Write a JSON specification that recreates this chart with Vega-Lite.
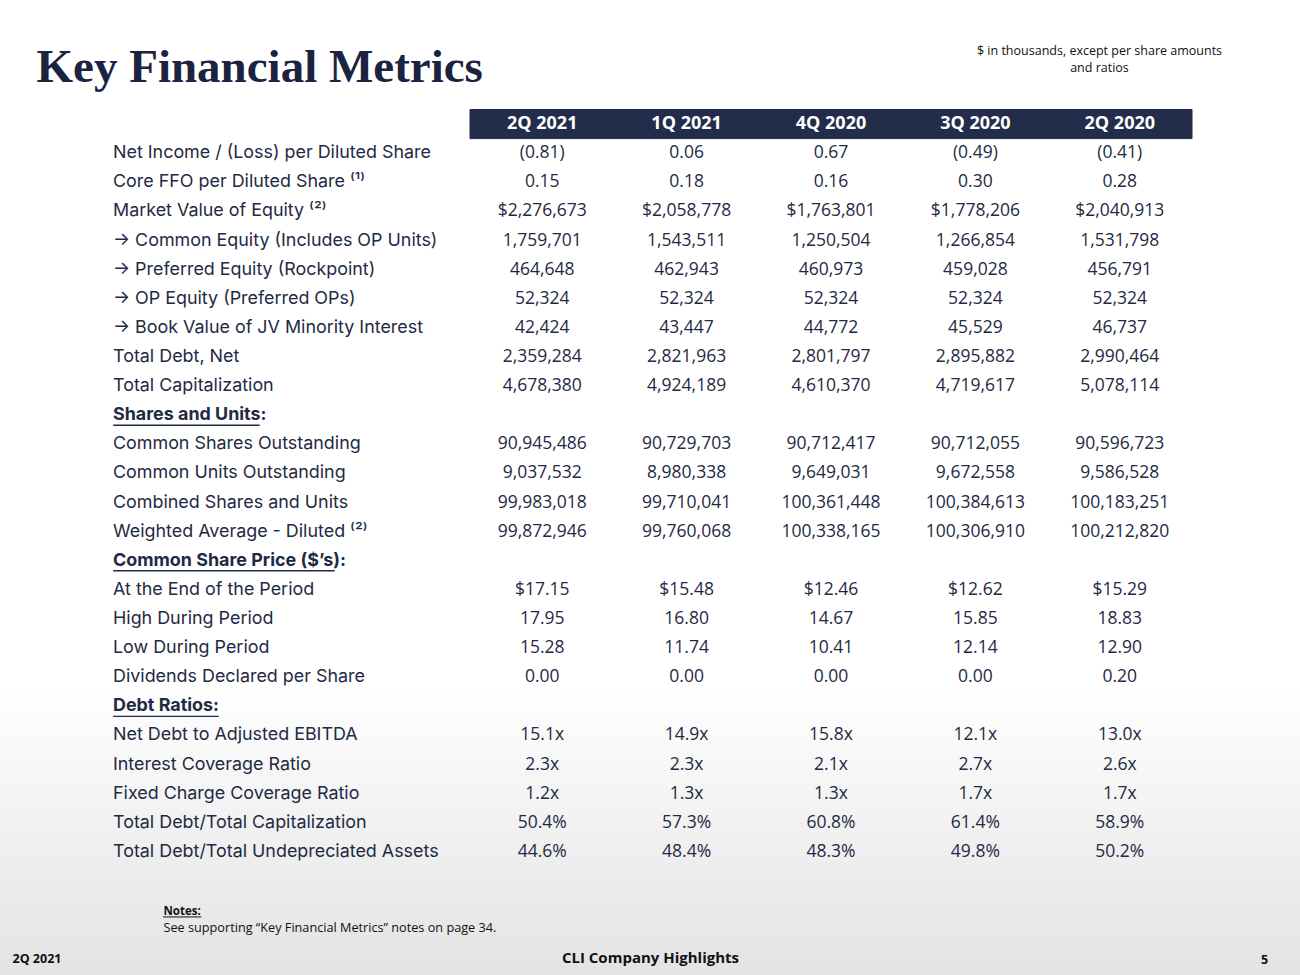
{
  "$schema": "https://vega.github.io/schema/vega-lite/v6.json",
  "width": 1300,
  "height": 975,
  "autosize": {"type": "none"},
  "padding": 0,
  "background": "#ffffff",
  "config": {
    "view": {"stroke": null},
    "axis": {"domain": false, "ticks": false, "labels": false, "grid": false, "titleFont": "Open Sans", "titleColor": "#111111", "titleAngle": 0, "titlePadding": 0},
    "text": {"font": "Open Sans"}
  },
  "resolve": {"axis": {"x": "independent", "y": "independent"}},
  "datasets": {
    "periods": [
      {"period": "2Q 2021", "r": 0},
      {"period": "1Q 2021", "r": 0},
      {"period": "4Q 2020", "r": 0},
      {"period": "3Q 2020", "r": 0},
      {"period": "2Q 2020", "r": 0}
    ],
    "table": [
      {"r": 1, "kind": "row", "label": "Net Income / (Loss) per Diluted Share", "2Q 2021": "(0.81)", "1Q 2021": "0.06", "4Q 2020": "0.67", "3Q 2020": "(0.49)", "2Q 2020": "(0.41)"},
      {"r": 2, "kind": "row", "label": "Core FFO per Diluted Share ⁽¹⁾", "2Q 2021": "0.15", "1Q 2021": "0.18", "4Q 2020": "0.16", "3Q 2020": "0.30", "2Q 2020": "0.28"},
      {"r": 3, "kind": "row", "label": "Market Value of Equity ⁽²⁾", "2Q 2021": "$2,276,673", "1Q 2021": "$2,058,778", "4Q 2020": "$1,763,801", "3Q 2020": "$1,778,206", "2Q 2020": "$2,040,913"},
      {"r": 4, "kind": "row", "label": "→ Common Equity (Includes OP Units)", "2Q 2021": "1,759,701", "1Q 2021": "1,543,511", "4Q 2020": "1,250,504", "3Q 2020": "1,266,854", "2Q 2020": "1,531,798"},
      {"r": 5, "kind": "row", "label": "→ Preferred Equity (Rockpoint)", "2Q 2021": "464,648", "1Q 2021": "462,943", "4Q 2020": "460,973", "3Q 2020": "459,028", "2Q 2020": "456,791"},
      {"r": 6, "kind": "row", "label": "→ OP Equity (Preferred OPs)", "2Q 2021": "52,324", "1Q 2021": "52,324", "4Q 2020": "52,324", "3Q 2020": "52,324", "2Q 2020": "52,324"},
      {"r": 7, "kind": "row", "label": "→ Book Value of JV Minority Interest", "2Q 2021": "42,424", "1Q 2021": "43,447", "4Q 2020": "44,772", "3Q 2020": "45,529", "2Q 2020": "46,737"},
      {"r": 8, "kind": "row", "label": "Total Debt, Net", "2Q 2021": "2,359,284", "1Q 2021": "2,821,963", "4Q 2020": "2,801,797", "3Q 2020": "2,895,882", "2Q 2020": "2,990,464"},
      {"r": 9, "kind": "row", "label": "Total Capitalization", "2Q 2021": "4,678,380", "1Q 2021": "4,924,189", "4Q 2020": "4,610,370", "3Q 2020": "4,719,617", "2Q 2020": "5,078,114"},
      {"r": 10, "kind": "section", "label": "Shares and Units:"},
      {"r": 11, "kind": "row", "label": "Common Shares Outstanding", "2Q 2021": "90,945,486", "1Q 2021": "90,729,703", "4Q 2020": "90,712,417", "3Q 2020": "90,712,055", "2Q 2020": "90,596,723"},
      {"r": 12, "kind": "row", "label": "Common Units Outstanding", "2Q 2021": "9,037,532", "1Q 2021": "8,980,338", "4Q 2020": "9,649,031", "3Q 2020": "9,672,558", "2Q 2020": "9,586,528"},
      {"r": 13, "kind": "row", "label": "Combined Shares and Units", "2Q 2021": "99,983,018", "1Q 2021": "99,710,041", "4Q 2020": "100,361,448", "3Q 2020": "100,384,613", "2Q 2020": "100,183,251"},
      {"r": 14, "kind": "row", "label": "Weighted Average - Diluted ⁽²⁾", "2Q 2021": "99,872,946", "1Q 2021": "99,760,068", "4Q 2020": "100,338,165", "3Q 2020": "100,306,910", "2Q 2020": "100,212,820"},
      {"r": 15, "kind": "section", "label": "Common Share Price ($’s):"},
      {"r": 16, "kind": "row", "label": "At the End of the Period", "2Q 2021": "$17.15", "1Q 2021": "$15.48", "4Q 2020": "$12.46", "3Q 2020": "$12.62", "2Q 2020": "$15.29"},
      {"r": 17, "kind": "row", "label": "High During Period", "2Q 2021": "17.95", "1Q 2021": "16.80", "4Q 2020": "14.67", "3Q 2020": "15.85", "2Q 2020": "18.83"},
      {"r": 18, "kind": "row", "label": "Low During Period", "2Q 2021": "15.28", "1Q 2021": "11.74", "4Q 2020": "10.41", "3Q 2020": "12.14", "2Q 2020": "12.90"},
      {"r": 19, "kind": "row", "label": "Dividends Declared per Share", "2Q 2021": "0.00", "1Q 2021": "0.00", "4Q 2020": "0.00", "3Q 2020": "0.00", "2Q 2020": "0.20"},
      {"r": 20, "kind": "section", "label": "Debt Ratios:"},
      {"r": 21, "kind": "row", "label": "Net Debt to Adjusted EBITDA", "2Q 2021": "15.1x", "1Q 2021": "14.9x", "4Q 2020": "15.8x", "3Q 2020": "12.1x", "2Q 2020": "13.0x"},
      {"r": 22, "kind": "row", "label": "Interest Coverage Ratio", "2Q 2021": "2.3x", "1Q 2021": "2.3x", "4Q 2020": "2.1x", "3Q 2020": "2.7x", "2Q 2020": "2.6x"},
      {"r": 23, "kind": "row", "label": "Fixed Charge Coverage Ratio", "2Q 2021": "1.2x", "1Q 2021": "1.3x", "4Q 2020": "1.3x", "3Q 2020": "1.7x", "2Q 2020": "1.7x"},
      {"r": 24, "kind": "row", "label": "Total Debt/Total Capitalization", "2Q 2021": "50.4%", "1Q 2021": "57.3%", "4Q 2020": "60.8%", "3Q 2020": "61.4%", "2Q 2020": "58.9%"},
      {"r": 25, "kind": "row", "label": "Total Debt/Total Undepreciated Assets", "2Q 2021": "44.6%", "1Q 2021": "48.4%", "4Q 2020": "48.3%", "3Q 2020": "49.8%", "2Q 2020": "50.2%"}
    ]
  },
  "layer": [
    {
      "data": {"values": [{"part": "page"}]},
      "mark": {"type": "rect", "fill": {"gradient": "linear", "x1": 0, "y1": 0, "x2": 0, "y2": 1, "stops": [{"offset": 0, "color": "#ffffff"}, {"offset": 0.7, "color": "#ffffff"}, {"offset": 1, "color": "#e3e3e3"}]}},
      "encoding": {}
    },
    {
      "data": {"name": "periods"},
      "mark": {"type": "rect", "color": "#232d4b", "stroke": "#232d4b", "strokeWidth": 1},
      "encoding": {
        "x": {"field": "period", "type": "nominal", "scale": {"type": "band", "domain": ["2Q 2021", "1Q 2021", "4Q 2020", "3Q 2020", "2Q 2020"], "range": [470, 1192], "paddingInner": 0, "paddingOuter": 0},
          "axis": {"orient": "top", "zindex": 3, "title": "Key Financial Metrics", "titleFont": "Liberation Serif", "titleFontSize": 47, "titleFontWeight": "bold", "titleColor": "#1b2340", "titleX": 36, "titleY": 81, "titleAlign": "left", "titleBaseline": "alphabetic"}},
        "y": {"field": "r", "type": "ordinal", "scale": {"type": "band", "domain": [0,1,2,3,4,5,6,7,8,9,10,11,12,13,14,15,16,17,18,19,20,21,22,23,24,25], "range": [109.5, 866.5], "paddingInner": 0, "paddingOuter": 0},
          "axis": {"orient": "left", "zindex": 3, "title": "2Q 2021", "titleFontSize": 12.5, "titleFontWeight": "bold", "titleX": 12, "titleY": 962, "titleAlign": "left", "titleBaseline": "alphabetic"}}
      }
    },
    {
      "data": {"name": "periods"},
      "mark": {"type": "text", "font": "Open Sans", "fontWeight": "bold", "fontSize": 18, "color": "#ffffff", "baseline": "middle"},
      "encoding": {
        "x": {"field": "period", "type": "nominal", "scale": {"type": "band", "domain": ["2Q 2021", "1Q 2021", "4Q 2020", "3Q 2020", "2Q 2020"], "range": [470, 1192], "paddingInner": 0, "paddingOuter": 0},
          "axis": {"orient": "top", "zindex": 3, "title": ["$ in thousands, except per share amounts", "and ratios"], "titleFontSize": 12.5, "titleFontWeight": "normal", "titleX": 1099, "titleY": 54, "titleAlign": "center", "titleBaseline": "alphabetic", "titleLineHeight": 17}},
        "y": {"field": "r", "type": "ordinal", "scale": {"type": "band", "domain": [0,1,2,3,4,5,6,7,8,9,10,11,12,13,14,15,16,17,18,19,20,21,22,23,24,25], "range": [109.5, 866.5], "paddingInner": 0, "paddingOuter": 0},
          "axis": {"orient": "left", "zindex": 3, "title": "5", "titleFontSize": 12.5, "titleFontWeight": "bold", "titleX": 1264, "titleY": 963, "titleAlign": "center", "titleBaseline": "alphabetic"}},
        "text": {"field": "period"}
      }
    },
    {
      "data": {"name": "table"},
      "transform": [{"fold": ["2Q 2021", "1Q 2021", "4Q 2020", "3Q 2020", "2Q 2020"], "as": ["period", "value"]}, {"filter": "isValid(datum.value)"}],
      "mark": {"type": "text", "font": "Open Sans", "fontSize": 17.5, "color": "#1f2a44", "baseline": "middle"},
      "encoding": {
        "x": {"field": "period", "type": "nominal", "scale": {"type": "band", "domain": ["2Q 2021", "1Q 2021", "4Q 2020", "3Q 2020", "2Q 2020"], "range": [470, 1192], "paddingInner": 0, "paddingOuter": 0},
          "axis": {"orient": "top", "zindex": 3, "title": "CLI Company Highlights", "titleFontSize": 15, "titleFontWeight": "bold", "titleX": 650, "titleY": 962, "titleAlign": "center", "titleBaseline": "alphabetic"}},
        "y": {"field": "r", "type": "ordinal", "scale": {"type": "band", "domain": [0,1,2,3,4,5,6,7,8,9,10,11,12,13,14,15,16,17,18,19,20,21,22,23,24,25], "range": [109.5, 866.5], "paddingInner": 0, "paddingOuter": 0},
          "axis": {"orient": "left", "zindex": 3, "title": "Notes:", "titleFontSize": 11.5, "titleFontWeight": "bold", "titleX": 163, "titleY": 914, "titleAlign": "left", "titleBaseline": "alphabetic"}},
        "text": {"field": "value"}
      }
    },
    {
      "data": {"name": "table"},
      "transform": [{"filter": "datum.kind === 'row'"}],
      "mark": {"type": "text", "font": "Inter", "fontSize": 17.9, "color": "#1f2a44", "baseline": "middle", "align": "left", "dx": -357},
      "encoding": {
        "x": {"datum": "2Q 2021", "type": "nominal", "bandPosition": 0, "scale": {"type": "band", "domain": ["2Q 2021", "1Q 2021", "4Q 2020", "3Q 2020", "2Q 2020"], "range": [470, 1192], "paddingInner": 0, "paddingOuter": 0},
          "axis": {"orient": "top", "zindex": 3, "title": "See supporting “Key Financial Metrics” notes on page 34.", "titleFontSize": 12.7, "titleFontWeight": "normal", "titleX": 163, "titleY": 931, "titleAlign": "left", "titleBaseline": "alphabetic"}},
        "y": {"field": "r", "type": "ordinal", "scale": {"type": "band", "domain": [0,1,2,3,4,5,6,7,8,9,10,11,12,13,14,15,16,17,18,19,20,21,22,23,24,25], "range": [109.5, 866.5], "paddingInner": 0, "paddingOuter": 0}, "axis": null},
        "text": {"field": "label"}
      }
    },
    {
      "data": {"name": "table"},
      "transform": [{"filter": "datum.kind === 'section'"}],
      "mark": {"type": "text", "font": "Inter", "fontSize": 17.9, "fontWeight": "bold", "color": "#1f2a44", "baseline": "middle", "align": "left", "dx": -357},
      "encoding": {
        "x": {"datum": "2Q 2021", "type": "nominal", "bandPosition": 0, "scale": {"type": "band", "domain": ["2Q 2021", "1Q 2021", "4Q 2020", "3Q 2020", "2Q 2020"], "range": [470, 1192], "paddingInner": 0, "paddingOuter": 0}, "axis": null},
        "y": {"field": "r", "type": "ordinal", "scale": {"type": "band", "domain": [0,1,2,3,4,5,6,7,8,9,10,11,12,13,14,15,16,17,18,19,20,21,22,23,24,25], "range": [109.5, 866.5], "paddingInner": 0, "paddingOuter": 0}, "axis": null},
        "text": {"field": "label"}
      }
    },
    {
      "data": {"name": "table"},
      "transform": [{"filter": "datum.r === 10"}],
      "mark": {"type": "rule", "color": "#1f2a44", "strokeWidth": 1.4, "xOffset": -429, "x2Offset": -282.5, "yOffset": 10},
      "encoding": {
        "x": {"datum": "2Q 2021", "type": "nominal", "scale": {"type": "band", "domain": ["2Q 2021", "1Q 2021", "4Q 2020", "3Q 2020", "2Q 2020"], "range": [470, 1192], "paddingInner": 0, "paddingOuter": 0}, "axis": null},
        "x2": {"datum": "2Q 2021"},
        "y": {"field": "r", "type": "ordinal", "scale": {"type": "band", "domain": [0,1,2,3,4,5,6,7,8,9,10,11,12,13,14,15,16,17,18,19,20,21,22,23,24,25], "range": [109.5, 866.5], "paddingInner": 0, "paddingOuter": 0}, "axis": null}
      }
    },
    {
      "data": {"name": "table"},
      "transform": [{"filter": "datum.r === 15"}],
      "mark": {"type": "rule", "color": "#1f2a44", "strokeWidth": 1.4, "xOffset": -429, "x2Offset": -207.5, "yOffset": 10},
      "encoding": {
        "x": {"datum": "2Q 2021", "type": "nominal", "scale": {"type": "band", "domain": ["2Q 2021", "1Q 2021", "4Q 2020", "3Q 2020", "2Q 2020"], "range": [470, 1192], "paddingInner": 0, "paddingOuter": 0}, "axis": null},
        "x2": {"datum": "2Q 2021"},
        "y": {"field": "r", "type": "ordinal", "scale": {"type": "band", "domain": [0,1,2,3,4,5,6,7,8,9,10,11,12,13,14,15,16,17,18,19,20,21,22,23,24,25], "range": [109.5, 866.5], "paddingInner": 0, "paddingOuter": 0}, "axis": null}
      }
    },
    {
      "data": {"name": "table"},
      "transform": [{"filter": "datum.r === 20"}],
      "mark": {"type": "rule", "color": "#1f2a44", "strokeWidth": 1.4, "xOffset": -429, "x2Offset": -323.5, "yOffset": 10},
      "encoding": {
        "x": {"datum": "2Q 2021", "type": "nominal", "scale": {"type": "band", "domain": ["2Q 2021", "1Q 2021", "4Q 2020", "3Q 2020", "2Q 2020"], "range": [470, 1192], "paddingInner": 0, "paddingOuter": 0}, "axis": null},
        "x2": {"datum": "2Q 2021"},
        "y": {"field": "r", "type": "ordinal", "scale": {"type": "band", "domain": [0,1,2,3,4,5,6,7,8,9,10,11,12,13,14,15,16,17,18,19,20,21,22,23,24,25], "range": [109.5, 866.5], "paddingInner": 0, "paddingOuter": 0}, "axis": null}
      }
    },
    {
      "data": {"name": "table"},
      "transform": [{"filter": "datum.r === 25"}],
      "mark": {"type": "rule", "color": "#111111", "strokeWidth": 1, "xOffset": -379.2, "x2Offset": -341, "yOffset": 65},
      "encoding": {
        "x": {"datum": "2Q 2021", "type": "nominal", "scale": {"type": "band", "domain": ["2Q 2021", "1Q 2021", "4Q 2020", "3Q 2020", "2Q 2020"], "range": [470, 1192], "paddingInner": 0, "paddingOuter": 0}, "axis": null},
        "x2": {"datum": "2Q 2021"},
        "y": {"field": "r", "type": "ordinal", "scale": {"type": "band", "domain": [0,1,2,3,4,5,6,7,8,9,10,11,12,13,14,15,16,17,18,19,20,21,22,23,24,25], "range": [109.5, 866.5], "paddingInner": 0, "paddingOuter": 0}, "axis": null}
      }
    }
  ]
}
